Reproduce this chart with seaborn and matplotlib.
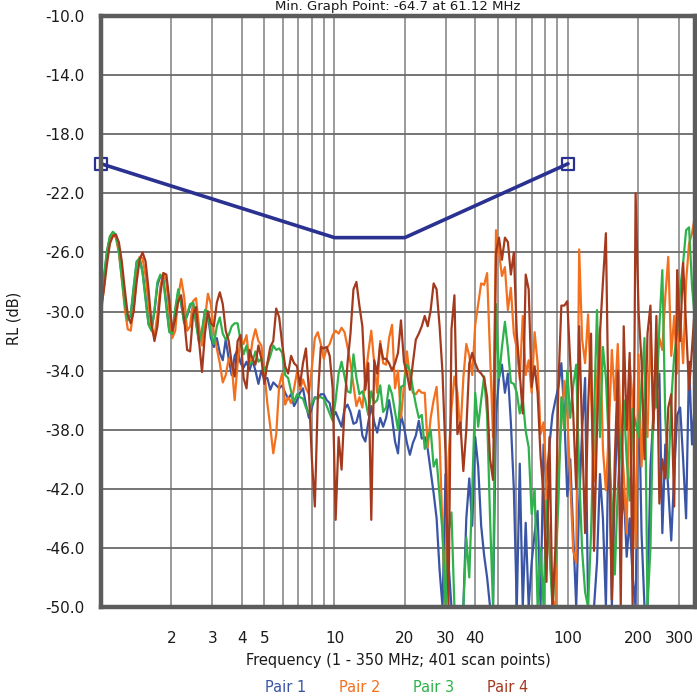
import numpy as np
import pandas as pd
import matplotlib
matplotlib.use("Agg")
import matplotlib.pyplot as plt
import seaborn as sns
from matplotlib.ticker import FixedLocator, FixedFormatter, NullFormatter

# scan frequencies (MHz), log spaced over 1 - 350 MHz
freq = np.geomspace(1, 350, 201)

pair1 = [
    -29.7, -27.8, -26.0, -25.0, -24.7, -24.8, -25.8, -27.5, -29.3, -30.5,
    -30.3, -28.5, -26.7, -26.4, -27.3, -29.0, -30.8, -31.2, -30.0, -28.2,
    -27.6, -27.8, -29.5, -31.3, -31.6, -30.0, -28.7, -29.5, -30.7, -30.3,
    -29.6, -29.4, -30.7, -32.0, -31.5, -30.0, -30.2, -31.8, -32.4, -31.8,
    -32.8, -33.3, -31.9, -33.2, -34.3, -33.0, -32.6, -33.5, -33.8, -33.4,
    -34.0, -33.3, -34.0, -34.9, -34.0, -34.6, -34.5, -35.3, -34.8, -35.0,
    -35.2, -35.0, -35.5, -35.9, -35.6, -36.4, -36.0, -35.5, -35.2, -36.3,
    -37.2, -36.5, -35.8, -35.9, -35.6, -35.6, -36.0, -36.2, -37.2, -36.8,
    -37.3, -37.8, -36.6, -36.3, -36.8, -37.6, -37.5, -36.7, -38.4, -38.8,
    -37.5, -36.4, -37.5, -38.2, -37.2, -37.8, -37.2, -36.0, -37.2, -38.8,
    -39.6, -37.0, -37.8, -38.9, -39.7, -38.9, -38.4, -37.4, -38.6, -38.5,
    -39.3, -40.8, -42.3, -44.0, -47.5, -50.0, -41.0, -47.0, -50.0, -50.0,
    -50.0, -50.0, -50.0, -44.0, -41.3, -44.5, -38.5, -40.5, -44.5, -46.5,
    -48.0, -50.0, -50.0, -37.0, -34.5, -33.6, -35.5, -34.2, -37.5, -42.0,
    -50.0, -40.3, -50.0, -44.3, -50.0, -47.0, -45.0, -43.5, -50.0, -39.0,
    -41.5, -39.0, -37.0, -36.0, -35.1, -33.5, -37.0, -42.5, -40.0, -45.0,
    -50.0, -43.0, -38.0, -34.5, -50.0, -50.0, -50.0, -47.0, -41.0, -44.0,
    -50.0, -37.0, -50.0, -42.0, -36.5, -45.0, -42.0, -46.6, -44.0, -48.0,
    -50.0, -34.6, -45.0, -50.0, -50.0, -40.5, -37.0, -35.5, -34.2, -45.0,
    -39.0, -42.0, -45.5, -41.0, -37.0, -36.5, -40.0, -44.0, -33.4, -39.0, -36.0,
]

pair2 = [
    -30.2, -28.3, -26.3, -25.2, -24.8, -25.0, -26.0, -27.8, -29.8, -31.2,
    -31.3, -29.8, -27.5, -26.3, -26.4, -27.6, -29.5, -31.2, -31.7, -30.2,
    -28.3, -27.4, -28.0, -30.0, -31.8, -31.3, -29.0, -27.8, -29.0, -31.3,
    -31.0, -29.3, -29.1, -31.0, -32.3, -30.5, -28.8, -29.5, -31.5, -32.5,
    -33.5, -34.8, -34.3, -33.2, -33.6, -36.0, -33.5, -31.8, -32.2, -31.6,
    -33.5, -32.0, -31.2, -32.0, -32.3, -34.1, -36.2, -37.8, -39.6, -38.3,
    -35.0, -34.2, -36.3, -35.8, -36.2, -35.2, -34.1, -35.3, -34.6, -35.2,
    -35.6, -33.8, -31.8, -31.4, -32.2, -33.2, -32.5, -32.2, -31.6, -31.3,
    -31.5, -31.1, -31.4, -32.4, -33.5, -35.0, -36.4, -35.8, -36.5, -34.5,
    -32.8, -31.3, -33.5, -35.5, -32.0, -33.5, -33.6, -31.8, -30.9, -35.2,
    -34.0, -37.2, -35.0, -32.7, -34.5, -35.5, -35.6, -35.3, -35.5, -35.5,
    -39.2, -37.2, -36.0, -35.1, -38.6, -45.0, -50.0, -40.0, -36.6, -34.4,
    -35.5, -38.3, -34.5, -32.2, -33.0, -34.3, -30.9, -29.5, -28.1, -28.2,
    -27.4, -32.9, -38.5, -24.5, -26.0, -27.6, -27.0, -29.9, -28.4, -31.5,
    -32.5, -34.6, -30.3, -34.3, -33.3, -35.5, -31.4, -33.5, -38.3, -37.5,
    -41.6, -46.0, -49.5, -50.0, -41.0, -37.5, -34.7, -37.0, -41.5, -46.2,
    -47.0, -25.8, -31.9, -33.5, -30.2, -35.5, -41.5, -34.7, -31.1, -39.3,
    -42.1, -38.0, -32.6, -36.0, -32.2, -38.0, -41.0, -45.0, -33.4, -36.0,
    -46.0, -32.9, -40.5, -35.9, -38.5, -31.1, -37.5, -33.5, -31.8, -32.6,
    -29.0, -26.3, -33.0, -30.3, -34.2, -30.2, -33.5, -28.0, -25.4, -24.7, -23.5,
]

pair3 = [
    -29.6, -27.6, -25.9, -24.9, -24.6, -24.8, -25.9, -27.7, -29.5, -30.6,
    -30.2, -28.3, -26.6, -26.4, -27.4, -29.2, -30.9, -31.3, -29.9, -28.0,
    -27.5, -27.9, -29.7, -31.4, -31.5, -29.8, -28.5, -29.4, -30.8, -30.2,
    -29.5, -29.4, -30.8, -32.1, -31.3, -29.9, -30.0, -31.5, -32.2, -31.0,
    -30.4, -31.5, -31.9, -31.6, -31.0, -30.8, -30.8, -32.0, -32.9, -32.3,
    -33.6, -33.4, -32.7, -33.4, -33.2, -34.0, -33.6, -33.0, -32.3, -32.6,
    -32.5, -32.8, -34.3, -34.5, -35.4, -36.1, -35.6, -35.8, -35.9, -36.5,
    -36.9, -36.2, -35.9, -35.8, -35.8, -35.9, -36.4, -36.9, -37.4, -36.0,
    -34.2, -33.4, -34.4, -35.4, -35.5, -32.9, -34.5, -35.6, -35.4, -36.0,
    -37.0, -35.4, -36.2, -36.0, -35.0, -36.8, -36.5, -35.0, -35.6, -36.8,
    -38.0, -35.1, -35.0, -33.6, -34.0, -35.2, -36.3, -37.2, -37.0, -39.3,
    -38.6, -38.0, -40.5, -40.0, -42.5, -45.0, -50.0, -45.0, -43.6, -50.0,
    -50.0, -50.0, -50.0, -45.3, -48.0, -42.1, -35.5, -37.8, -36.0, -34.4,
    -37.0, -44.0, -50.0, -29.5, -34.5, -32.4, -30.7, -32.5, -34.8, -34.9,
    -35.5, -36.9, -35.9, -38.1, -39.2, -43.7, -42.0, -50.0, -46.0, -50.0,
    -42.8, -46.0, -50.0, -47.0, -43.0, -35.8, -38.0, -34.0, -37.2, -35.0,
    -33.6, -40.8, -46.2, -49.0, -50.0, -45.0, -37.0, -29.9, -38.5, -32.4,
    -34.5, -39.0, -43.0, -47.8, -42.0, -39.0, -36.0, -40.0, -42.8, -36.6,
    -37.5, -38.5, -35.0, -31.8, -50.0, -46.0, -35.8, -36.5, -31.0, -27.2,
    -37.2, -41.3, -36.0, -33.0, -31.4, -28.5, -26.7, -24.5, -24.3, -28.3, -30.6,
]

pair4 = [
    -29.8, -28.5, -26.8, -25.4, -24.9, -24.8, -25.3, -26.6, -28.5, -30.2,
    -30.8, -30.0, -28.0, -26.5, -26.0, -26.6, -28.5, -30.8, -32.0, -31.0,
    -28.8, -27.4, -27.5, -29.2, -31.3, -30.5, -29.3, -28.9, -30.5, -32.6,
    -32.7, -30.2, -29.7, -32.0, -34.1, -31.5, -30.0, -30.8, -31.0, -29.4,
    -28.7, -29.5, -31.3, -32.0, -33.5, -34.4, -32.0, -31.6, -34.5, -35.2,
    -32.6, -33.2, -33.6, -32.3, -33.2, -34.9, -33.5, -32.4, -32.0, -29.8,
    -30.4, -32.2, -33.7, -34.2, -33.0, -33.5, -33.7, -35.0, -33.5, -32.5,
    -35.4, -40.0, -43.2, -35.9, -32.4, -32.5, -32.4, -33.0, -35.2, -44.1,
    -38.5, -40.7, -36.5, -33.5, -31.5, -28.5, -28.0, -29.6, -31.0, -35.3,
    -33.5, -44.1, -33.3, -34.2, -32.2, -33.2, -33.2, -33.5, -34.0, -33.5,
    -32.8, -30.6, -33.4, -34.2, -35.3, -33.5, -31.9, -31.5, -31.0, -30.3,
    -31.0, -29.9, -28.1, -28.5, -31.0, -34.2, -39.6, -50.0, -31.2, -28.9,
    -38.3, -37.5, -40.8, -38.0, -33.5, -32.8, -33.5, -34.0, -34.2, -34.5,
    -35.8, -40.0, -41.4, -26.0, -25.0, -26.5, -25.0, -25.3, -27.5, -26.0,
    -31.5, -34.2, -36.9, -27.5, -28.5, -35.1, -33.7, -35.5, -39.8, -42.4,
    -48.3, -38.5, -50.0, -46.0, -35.0, -29.6, -29.6, -29.3, -33.5, -36.9,
    -42.0, -31.0, -38.2, -45.0, -36.5, -31.5, -46.2, -38.0, -31.5, -28.0,
    -24.7, -38.4, -49.5, -40.0, -34.0, -50.0, -31.0, -38.0, -32.8, -50.0,
    -22.0, -30.0, -33.4, -40.0, -31.5, -29.6, -38.0, -30.3, -43.0, -40.0,
    -41.3, -36.5, -35.6, -43.2, -27.2, -32.0, -26.7, -31.0, -35.3, -32.5, -29.5,
]

pair_names = ["Pair 1", "Pair 2", "Pair 3", "Pair 4"]
pair_colors = ["#3a55a6", "#f3701f", "#2fb14b", "#a33a1e"]

limit_freq = [1, 10, 20, 100]
limit_db = [-20, -25, -25, -20]

x_tick_vals = [2, 3, 4, 5, 10, 20, 30, 40, 100, 200, 300]
x_tick_labels = ["2", "3", "4", "5", "10", "20", "30", "40", "100", "200", "300"]
x_minor_vals = [6, 7, 8, 9, 50, 60, 70, 80, 90]
y_tick_vals = [-50, -46, -42, -38, -34, -30, -26, -22, -18, -14, -10]

title = "Min. Graph Point: -64.7 at 61.12 MHz"
xlabel = "Frequency (1 - 350 MHz; 401 scan points)"
ylabel = "RL (dB)"

sns.set_theme(style="white")
plt.rcParams['font.family'] = ['DejaVu Sans']

W, H = 697, 698
fig = plt.figure(figsize=(W / 100, H / 100), dpi=100)
ax = fig.add_axes([101 / W, 1 - 607 / H, 594 / W, 591 / H])

frames = []
for name, vals in zip(pair_names, [pair1, pair2, pair3, pair4]):
    frames.append(pd.DataFrame({"freq": freq, "rl": vals, "pair": name}))
df = pd.concat(frames, ignore_index=True)

sns.lineplot(data=df, x="freq", y="rl", hue="pair", palette=pair_colors,
             linewidth=1.6, legend=False, ax=ax, estimator=None, sort=False)

navy = "#2b3190"
sns.lineplot(x=limit_freq, y=limit_db, color=navy, linewidth=2.6, ax=ax,
             estimator=None, sort=False, zorder=4)
ax.scatter([limit_freq[0], limit_freq[-1]], [limit_db[0], limit_db[-1]],
           marker="s", s=70, facecolors="none", edgecolors=navy,
           linewidths=1.6, zorder=5, clip_on=False)

ax.set_xscale("log")
ax.set_xlim(1, 350)
ax.set_ylim(-50, -10)

ax.xaxis.set_major_locator(FixedLocator(x_tick_vals))
ax.xaxis.set_major_formatter(FixedFormatter(x_tick_labels))
ax.xaxis.set_minor_locator(FixedLocator(x_minor_vals))
ax.xaxis.set_minor_formatter(NullFormatter())
ax.set_yticks(y_tick_vals)
ax.set_yticklabels([f"{v:.1f}" for v in y_tick_vals])

ax.tick_params(axis="both", which="both", length=0, labelsize=11, colors="#1a1a1a")
ax.tick_params(axis="x", pad=17)
ax.tick_params(axis="y", pad=12)

ax.grid(True, axis="y", which="major", color="#6a6a6a", linewidth=1.3)
ax.grid(True, axis="x", which="both", color="#8a8a8a", linewidth=1.2)
ax.set_axisbelow(True)

for sp in ax.spines.values():
    sp.set_visible(True)
    sp.set_color("#5c5c5c")
    sp.set_linewidth(3.2)
    sp.set_zorder(6)

ax.set_xlabel("")
ax.set_ylabel("")

fig.text(398 / W, 1 - 10 / H, title, ha="center", va="baseline", fontsize=9.5, color="#1a1a1a")
fig.text(14 / W, 1 - 318 / H, ylabel, rotation=90, ha="center", va="center", fontsize=10.5, color="#1a1a1a")
fig.text(398 / W, 1 - 661 / H, xlabel, ha="center", va="center", fontsize=10.5, color="#1a1a1a")
for name, col, cx in zip(pair_names, pair_colors, [286, 360, 434, 508]):
    fig.text(cx / W, 1 - 688 / H, name, ha="center", va="center", fontsize=10.5, color=col)

fig.savefig("out.png", dpi=100)
